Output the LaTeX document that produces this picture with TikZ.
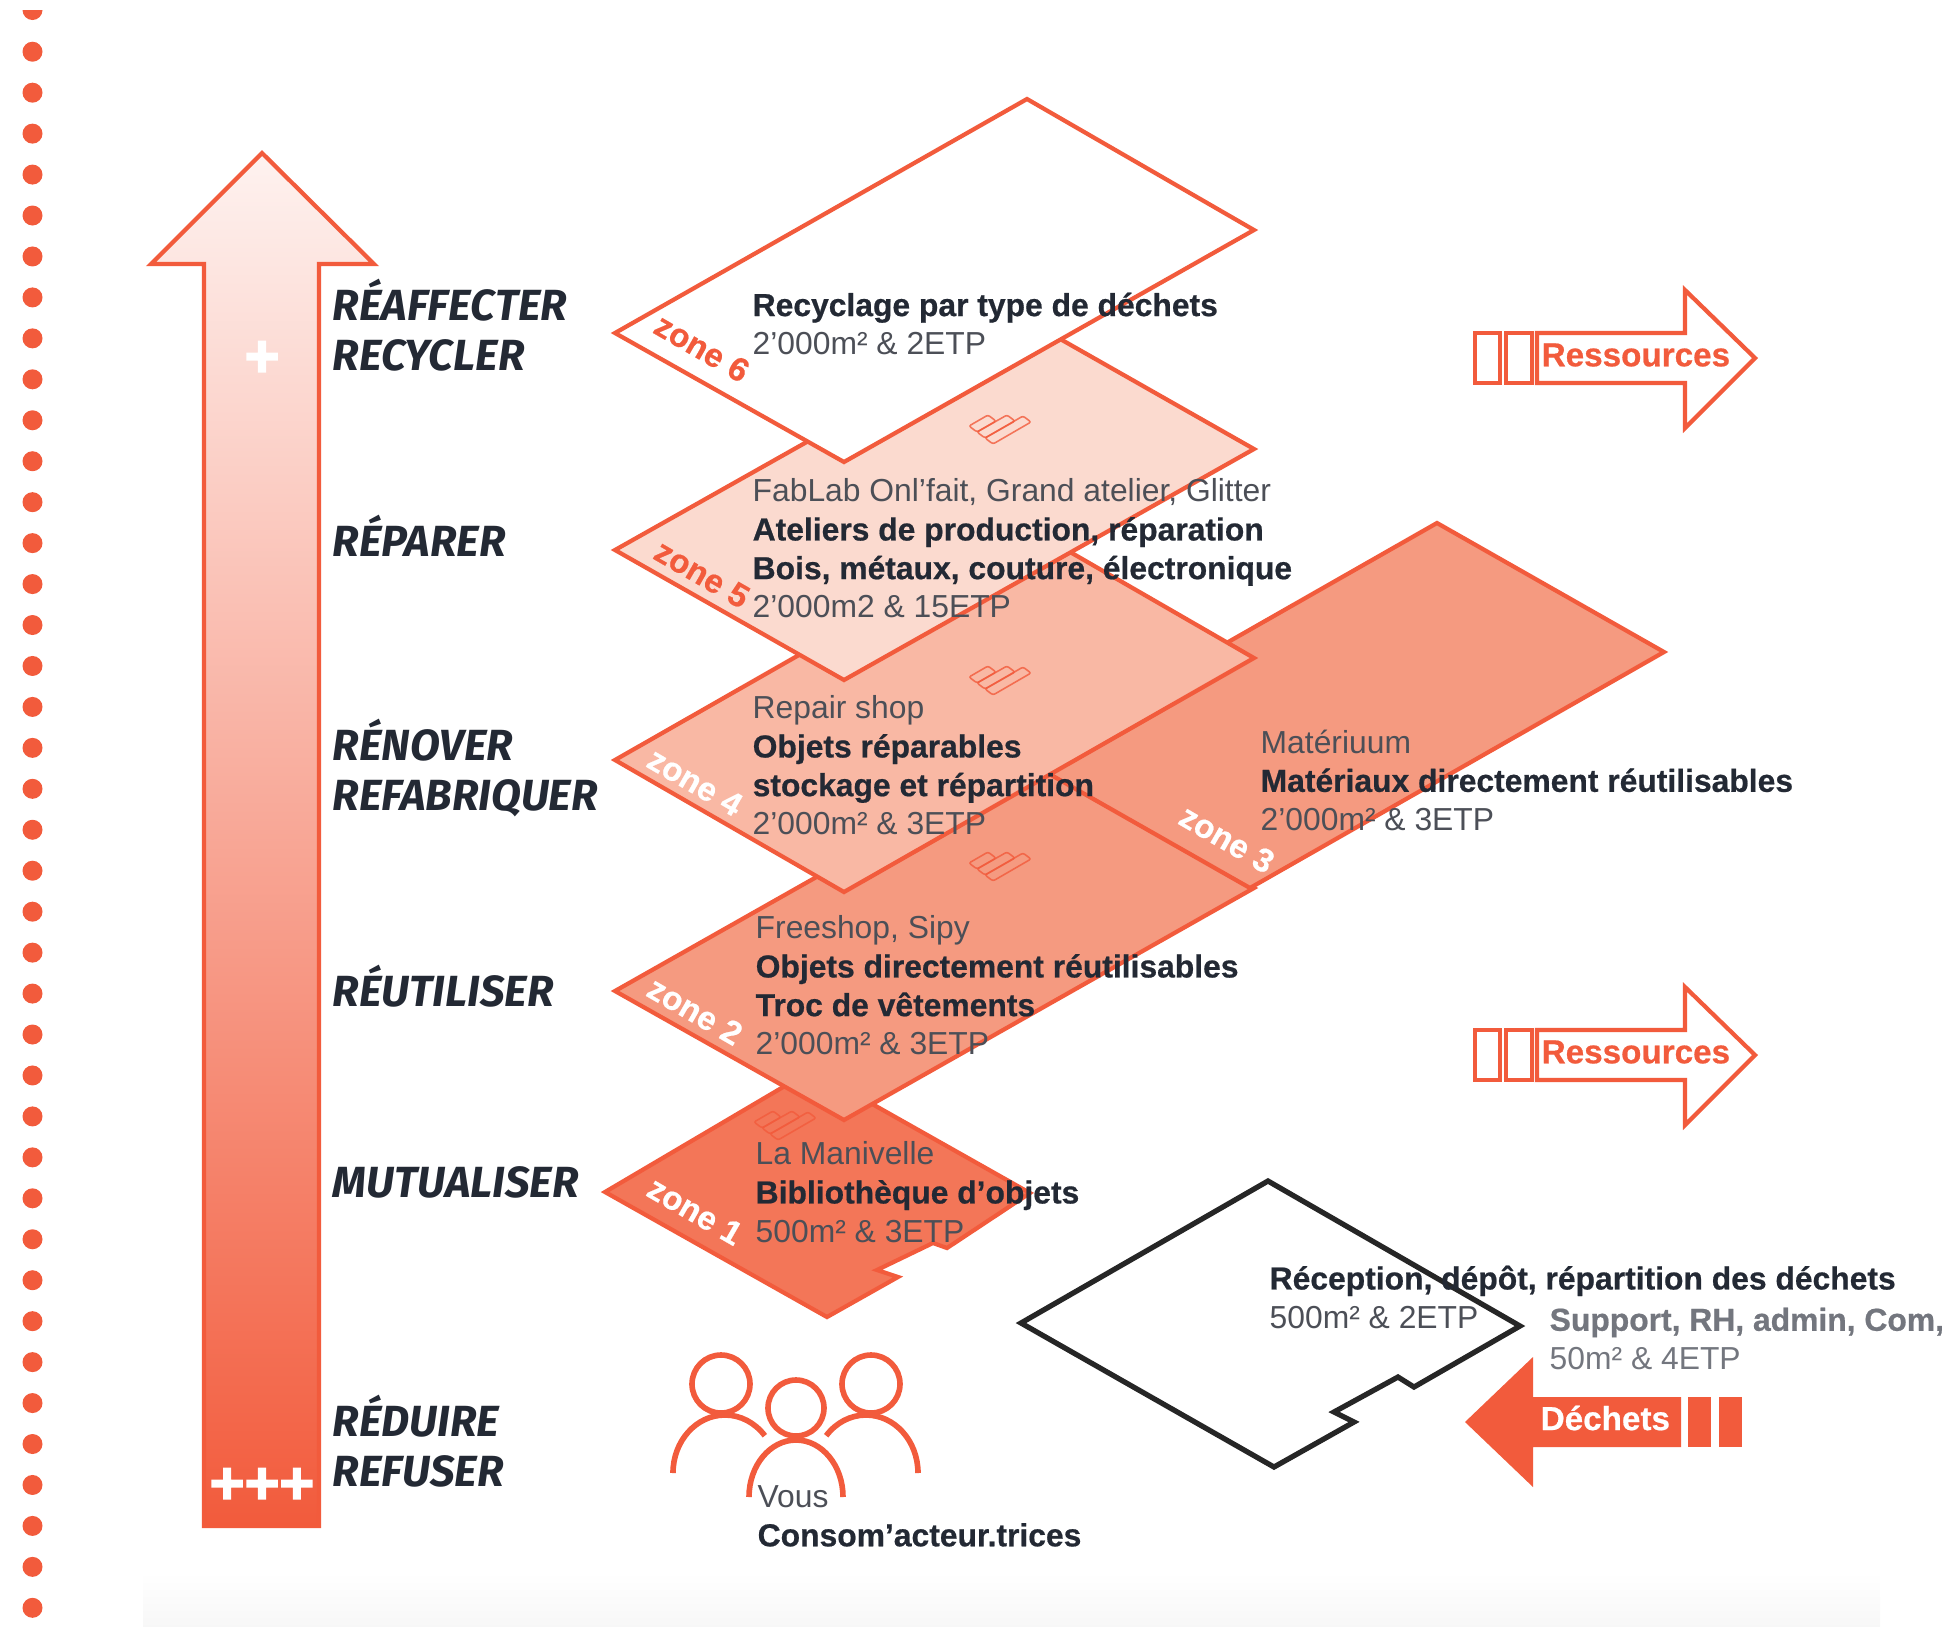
\documentclass[tikz,border=0pt]{standalone}
\usepackage{xcolor}
\usepackage{fontspec}
\setmainfont{Liberation Sans}[BoldFeatures={FakeBold=0.6}]
\newfontfamily\handfont{Fira Sans}
\newfontfamily\plusfont{Liberation Sans Bold}[FakeBold=2.5]
\usepackage{tikz}
\definecolor{rouge}{HTML}{F25B3C}
\definecolor{encre}{HTML}{232934}
\definecolor{texte}{HTML}{4C4F57}
\definecolor{gris}{HTML}{73767E}
\definecolor{fondcinq}{HTML}{FBDACF}
\definecolor{fondquatre}{HTML}{F9B8A4}
\definecolor{fondtrois}{HTML}{F59A80}
\definecolor{fondun}{HTML}{F37658}
\tikzset{
  zone/.style={draw=rouge,line width=1.2pt,line join=miter},
  bloc/.style={anchor=north west,inner sep=0pt,align=left,text=texte,font=\fontsize{9.05}{11}\selectfont},
  etiq/.style={inner sep=0pt,rotate=-30,font=\fontsize{9.4}{12}\selectfont\bfseries},
  mot/.style={anchor=west,inner sep=0pt,align=left,text=encre,font=\handfont\fontsize{12.4}{14.4}\selectfont\bfseries\itshape},
  fleche/.style={draw=rouge,line width=1.2pt,fill=white},
  titre/.style={inner sep=0pt,anchor=west,font=\fontsize{9.45}{12}\selectfont\bfseries},
  plus/.style={inner sep=0pt,text=white,font=\plusfont\fontsize{17}{17}\selectfont},
  tete/.style={draw=rouge,line width=1.6pt},
}
\newcommand{\gras}[1]{{\bfseries\color{encre}#1}}
\begin{document}
\begin{tikzpicture}[x=0.01cm,y=-0.01cm]
\useasboundingbox (0,0) rectangle (1947,1626);
\shade[top color=white,bottom color=black!3] (143,1572) rectangle (1880,1626);
\fill[rouge] (22.5,10) arc[start angle=180,end angle=0,radius=10];
\foreach \n in {0,...,38}{
  \pgfmathsetmacro{\ypos}{51.7+\n*40.95}
  \fill[rouge] (32.5,\ypos) circle[radius=10];
}
\path[draw=rouge,line width=1.2pt,top color=white!92!rouge,bottom color=rouge]
  (262,153) -- (374,264) -- (319,264) -- (319,1526) -- (204,1526) -- (204,264) -- (151,264) -- cycle;
\node[plus] (plusun) at (262,359) {+};
\node[plus] (plustrois) at (262,1486) {+++};
\node[mot] (motsix) at (332,325) {RÉAFFECTER\\RECYCLER};
\node[mot] (motcinq) at (332,536) {RÉPARER};
\node[mot] (motquatre) at (332,768) {RÉNOVER\\REFABRIQUER};
\node[mot] (motdeux) at (332,986) {RÉUTILISER};
\node[mot] (motun) at (332,1182) {MUTUALISER};
\node[mot] (motzero) at (332,1441) {RÉDUIRE\\REFUSER};
\draw[zone,fill=fondun] (605,1192) -- (812,1070) -- (1030,1193) -- (947,1248) -- (933,1243) -- (877,1270) -- (898,1277) -- (827,1317) -- cycle;
\draw[zone,fill=fondtrois] (615,991) -- (1025,759) -- (1254,888) -- (844,1120) -- cycle;
\draw[zone,fill=fondtrois] (1023,759) -- (1437,523) -- (1664,652) -- (1250,888) -- cycle;
\draw[zone,fill=fondquatre] (615,760) -- (1025,526) -- (1254,658) -- (844,892) -- cycle;
\draw[zone,fill=fondcinq] (615,550) -- (1025,319) -- (1254,449) -- (844,680) -- cycle;
\draw[zone,fill=white] (615,333) -- (1027,99) -- (1254,230) -- (844,462) -- cycle;
\foreach \ix/\iy in {1000/428,1000/679,1000/865,785/1124}{
  \begin{scope}[shift={(\ix,\iy)},rouge,line width=0.45pt,opacity=0.8,rounded corners=0.6pt]
    \draw (-31,-2) -- (-12,-13) -- (-4,-7) -- (-23,4) -- cycle;
    \draw (-23,4) -- (7,-13) -- (15,-7) -- (-15,10) -- cycle;
    \draw (-15,10) -- (23,-12) -- (31,-6) -- (-7,16) -- cycle;
  \end{scope}
}
\draw[black!85,line width=1.5pt] (1021,1323) -- (1268,1181) -- (1520,1326) -- (1414,1387) -- (1398,1377) -- (1334,1412) -- (1354,1422) -- (1274,1467) -- cycle;
\node[etiq,text=rouge] (zonesix) at (702,348) {zone 6};
\node[etiq,text=rouge] (zonecinq) at (702,574) {zone 5};
\node[etiq,text=white] (zonequatre) at (695,782) {zone 4};
\node[etiq,text=white] (zonetrois) at (1227,839) {zone 3};
\node[etiq,text=white] (zonedeux) at (695,1011) {zone 2};
\node[etiq,text=white] (zoneun) at (695,1211) {zone 1};
\node[bloc] (blocsix) at (752,292) {\gras{Recyclage par type de déchets}\\2'000m² \& 2ETP};
\node[bloc] (bloccinq) at (752,478) {FabLab Onl'fait, Grand atelier, Glitter\\\gras{Ateliers de production, réparation}\\\gras{Bois, métaux, couture, électronique}\\2'000m2 \& 15ETP};
\node[bloc] (blocquatre) at (752,695) {Repair shop\\\gras{Objets réparables}\\\gras{stockage et répartition}\\2'000m² \& 3ETP};
\node[bloc] (bloctrois) at (1260,729) {Matériuum\\\gras{Matériaux directement réutilisables}\\2'000m² \& 3ETP};
\node[bloc] (blocdeux) at (755,915) {Freeshop, Sipy\\\gras{Objets directement réutilisables}\\\gras{Troc de vêtements}\\2'000m² \& 3ETP};
\node[bloc] (blocun) at (755,1141) {La Manivelle\\\gras{Bibliothèque d'objets}\\500m² \& 3ETP};
\node[bloc] (blocrecept) at (1269,1265) {\gras{Réception, dépôt, répartition des déchets}\\500m² \& 2ETP};
\node[bloc,text=gris] (blocsupport) at (1549,1307) {{\bfseries Support, RH, admin, Com,}\\50m² \& 4ETP};
\node[bloc] (blocvous) at (757,1485) {Vous\\\gras{Consom'acteur.trices}};
\foreach \dy in {0,697}{
  \begin{scope}[yshift=-\dy*0.01cm]
    \draw[fleche] (1537,333) -- (1685,333) -- (1685,290) -- (1755,358) -- (1685,428) -- (1685,383) -- (1537,383) -- cycle;
    \draw[fleche] (1475,333) rectangle (1500,383);
    \draw[fleche] (1506,333) rectangle (1532,383);
  \end{scope}
}
\node[titre,text=rouge] (resun) at (1541,355) {Ressources};
\node[titre,text=rouge] (resdeux) at (1541,1052) {Ressources};
\fill[rouge] (1465,1422) -- (1533,1357) -- (1533,1397) -- (1681,1397) -- (1681,1447) -- (1533,1447) -- (1533,1487) -- cycle;
\fill[rouge] (1688,1397) rectangle (1711,1447);
\fill[rouge] (1719,1397) rectangle (1742,1447);
\node[titre,text=white] (dechets) at (1540,1418) {Déchets};
\draw[tete] (721,1384) circle[radius=29];
\draw[tete] (796,1408) circle[radius=28];
\draw[tete] (871,1384) circle[radius=29];
\draw[tete] (673,1473) arc[start angle=180,end angle=320,x radius=52,y radius=58];
\draw[tete] (918,1473) arc[start angle=0,end angle=-140,x radius=52,y radius=58];
\draw[tete] (749,1497) arc[start angle=180,end angle=360,x radius=47,y radius=57];
\end{tikzpicture}
\end{document}
